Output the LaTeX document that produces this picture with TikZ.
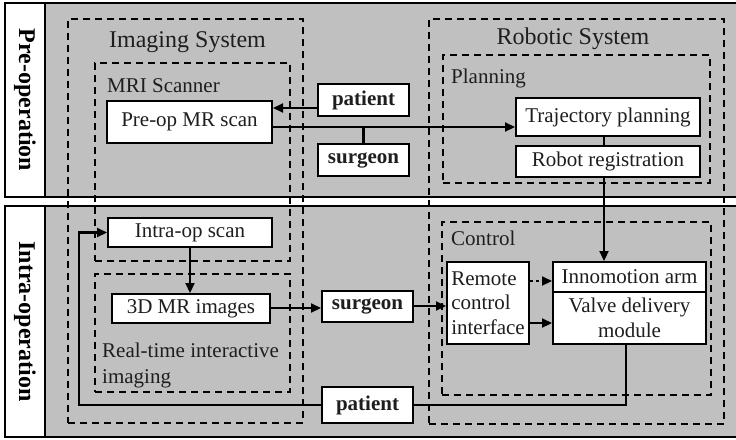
\documentclass[tikz,border=0pt]{standalone}
\usepackage{fontspec}
\setmainfont{Liberation Serif}
\usetikzlibrary{arrows.meta}
\definecolor{bandgray}{RGB}{192,192,192}
\definecolor{ink}{RGB}{30,30,30}
\begin{document}
\begin{tikzpicture}[x=1pt,y=-1pt,
  band/.style={draw=black,line width=2.6pt,fill=bandgray},
  sidebox/.style={draw=black,line width=2.6pt,fill=white,rotate=-90,inner sep=0pt,
    font=\fontsize{24}{28}\selectfont\bfseries},
  group/.style={draw=black,line width=1.8pt,dash pattern=on 7pt off 5pt,inner sep=0pt},
  title/.style={font=\fontsize{24}{28}\selectfont,text=ink,inner sep=0pt,anchor=base},
  grouplabel/.style={font=\fontsize{21}{25}\selectfont,text=ink,inner sep=0pt,anchor=base west},
  procbox/.style={draw=black,line width=2pt,fill=white,inner sep=0pt,
    font=\fontsize{21}{25}\selectfont,text=ink,align=center},
  actor/.style={procbox,font=\fontsize{21}{25}\selectfont\bfseries},
  conn/.style={line width=2.2pt},
  arr/.style={conn,-{Triangle[length=10pt,width=9pt]}},
  dotarr/.style={arr,dash pattern=on 3pt off 3pt},
]
\useasboundingbox (0,0) rectangle (736,439);
\begin{scope}
\clip (0,0) rectangle (736,439);
\draw[band] (5,3) rectangle (760,197);
\draw[band] (5,206) rectangle (760,437);
\end{scope}
% phase labels
\node[sidebox,minimum width=194pt,minimum height=40pt] (prelbl) at (25,100) {Pre-operation};
\node[sidebox,minimum width=231pt,minimum height=40pt] (intralbl) at (25,321.5) {Intra-operation};
% dashed groups
\node[group,minimum width=235pt,minimum height=404pt] (imgsys) at (185.5,221) {};
\node[group,minimum width=195pt,minimum height=198pt] (mri) at (192.5,162) {};
\node[group,minimum width=195pt,minimum height=118pt] (rtimg) at (192.5,333) {};
\node[group,minimum width=295pt,minimum height=405pt] (robsys) at (576.5,221.5) {};
\node[group,minimum width=267pt,minimum height=128pt] (planning) at (576.5,119) {};
\node[group,minimum width=269pt,minimum height=173pt] (control) at (576.5,308.5) {};
% group titles
\node[title] (imgsystitle) at (187.5,47) {Imaging System};
\node[title] (robsystitle) at (573,44) {Robotic System};
\node[grouplabel] (mrititle) at (107,92) {MRI Scanner};
\node[grouplabel] (plantitle) at (451,83) {Planning};
\node[grouplabel] (ctrltitle) at (451,245) {Control};
\node[font=\fontsize{21}{26}\selectfont,text=ink,inner sep=0pt,anchor=north west,align=left]
  (rttitle) at (102,343) {Real-time interactive\\imaging};
% boxes
\node[procbox,minimum width=165pt,minimum height=42pt] (preop) at (189.5,122) {Pre-op MR scan};
\node[actor,minimum width=91pt,minimum height=32pt] (patient1) at (363.5,100) {patient};
\node[actor,minimum width=91pt,minimum height=32pt] (surgeon1) at (363.5,160) {surgeon};
\node[procbox,minimum width=184pt,minimum height=38pt] (traj) at (608,117) {Trajectory planning};
\node[procbox,minimum width=184pt,minimum height=31pt] (robreg) at (608,161.5) {Robot registration};
\node[procbox,minimum width=164pt,minimum height=29pt] (intra) at (190,232.5) {Intra-op scan};
\node[procbox,minimum width=158pt,minimum height=29pt] (mr3d) at (191,308.5) {3D MR images};
\node[actor,minimum width=91pt,minimum height=31pt] (surgeon2) at (367.5,306.5) {surgeon};
\node[actor,minimum width=91pt,minimum height=36pt] (patient2) at (367.5,405) {patient};
\node[procbox,minimum width=82pt,minimum height=82pt,align=left,
  font=\fontsize{21}{24.5}\selectfont] (remote) at (488,303) {Remote\\control\\interface};
\node[procbox,minimum width=153pt,minimum height=30pt] (arm) at (629.5,277) {Innomotion arm};
\node[procbox,minimum width=153pt,minimum height=52pt,font=\fontsize{21}{25}\selectfont]
  (valve) at (629.5,318) {Valve delivery\\module};
% connectors
\draw[arr] (patient1.west |- 0,108) -- (preop.east |- 0,108);
\draw[conn] (surgeon1.north) -- (surgeon1.north |- 0,127);
\draw[arr] (preop.east |- 0,127) -- (traj.west |- 0,127);
\draw[conn] (traj.south -| 604,0) -- (robreg.north -| 604,0);
\draw[arr] (robreg.south -| 604,0) -- (arm.north -| 604,0);
\draw[arr] (intra.south) -- (intra.south |- mr3d.north);
\draw[arr] (mr3d.east |- 0,308) -- (surgeon2.west |- 0,308);
\draw[arr] (surgeon2.east |- 0,306) -- (remote.west |- 0,306);
\draw[dotarr] (remote.east |- 0,281) -- (arm.west |- 0,281);
\draw[arr] (remote.east |- 0,323) -- (valve.west |- 0,323);
\draw[conn] (valve.south -| 626,0) |- (patient2.east);
\draw[arr] (patient2.west) -| ([xshift=-28pt]intra.west) -- (intra.west);
\end{tikzpicture}
\end{document}
